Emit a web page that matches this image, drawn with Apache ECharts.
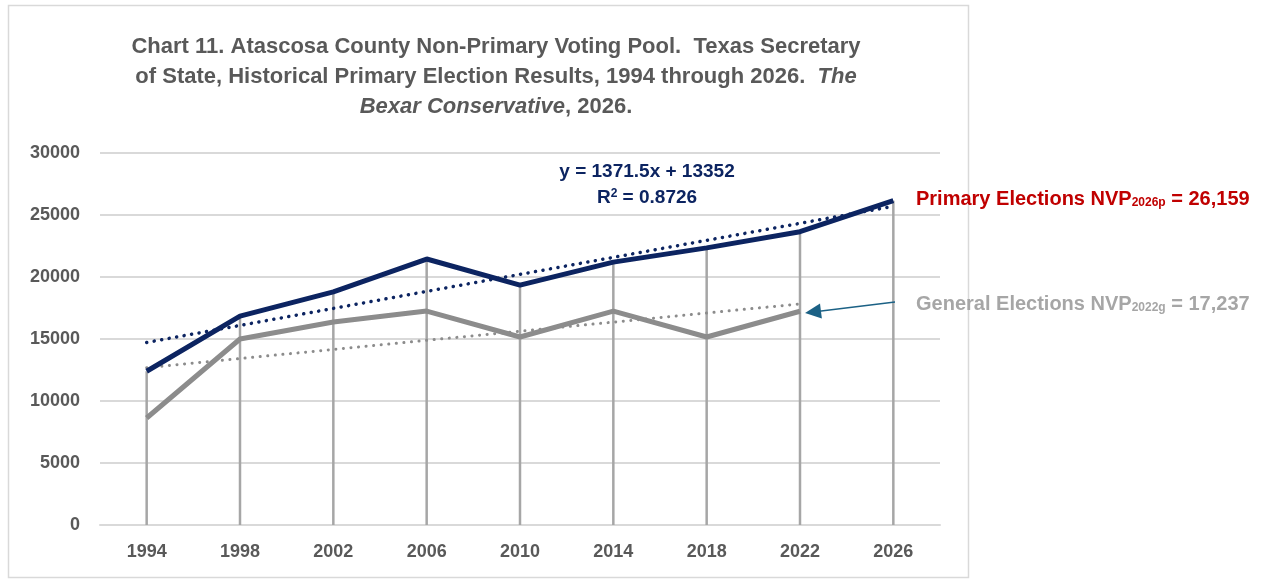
<!DOCTYPE html>
<html>
<head>
<meta charset="utf-8">
<script src="https://cdn.jsdelivr.net/npm/echarts@6/dist/echarts.min.js"></script>
<style>
  html, body { margin: 0; padding: 0; background: #fff; }
  #chart { width: 1267px; height: 582px; }
</style>
</head>
<body>
<div id="chart"></div>
<script>
// values
const years = ['1994', '1998', '2002', '2006', '2010', '2014', '2018', '2022', '2026'];
const primaryNVP = [12400, 16850, 18800, 21450, 19350, 21200, 22350, 23650, 26159];
const generalNVP = [8630, 15000, 16370, 17250, 15160, 17250, 15160, 17237, null];
// trend line end points (first and last year of each series)
const primaryTrend = [14720, null, null, null, null, null, null, null, 25700];
const generalTrend = [12690, null, null, null, null, null, null, 17830, null];
const yTicks = { min: 0, max: 30000, interval: 5000 };

const navy = '#0c2461';
const gray = '#8c8c8c';
const labelGray = '#595959';

const chart = echarts.init(document.getElementById('chart'));

const option = {
    backgroundColor: '#fff',
    animation: false,
    title: {
        left: 491,
        top: 27,
        textAlign: 'center',
        text: 'Chart 11. Atascosa County Non-Primary Voting Pool.  Texas Secretary\n' +
              'of State, Historical Primary Election Results, 1994 through 2026.  {i|The}\n' +
              '{i|Bexar Conservative}, 2026.',
        textStyle: {
            fontFamily: 'Liberation Sans',
            fontSize: 22,
            fontWeight: 'bold',
            color: labelGray,
            lineHeight: 30,
            rich: {
                i: { fontFamily: 'Liberation Sans', fontSize: 22, fontWeight: 'bold', fontStyle: 'italic', color: labelGray, lineHeight: 30 }
            }
        }
    },
    grid: { left: 100, right: 327, top: 153, bottom: 57 },
    xAxis: {
        type: 'category',
        data: years,
        boundaryGap: true,
        axisLine: { lineStyle: { color: '#d9d9d9', width: 2 } },
        axisTick: { show: false },
        axisLabel: { color: labelGray, fontSize: 18, fontWeight: 'bold', fontFamily: 'Liberation Sans', margin: 18 }
    },
    yAxis: {
        type: 'value',
        min: yTicks.min,
        max: yTicks.max,
        interval: yTicks.interval,
        axisLine: { show: false },
        axisTick: { show: false },
        splitLine: { lineStyle: { color: '#d9d9d9', width: 2 } },
        axisLabel: {
            color: labelGray, fontSize: 18, fontWeight: 'bold', fontFamily: 'Liberation Sans', margin: 20,
            formatter: v => String(v)
        }
    },
    series: [
        {
            // drop lines
            type: 'bar',
            data: primaryNVP,
            barWidth: 2.5,
            itemStyle: { color: '#a6a6a6' },
            z: 1,
            silent: true
        },
        {
            name: 'General trend',
            type: 'line',
            data: generalTrend,
            connectNulls: true,
            symbol: 'none',
            lineStyle: { color: gray, width: 3, type: [0.1, 7.5], cap: 'round' },
            z: 2
        },
        {
            name: 'General',
            type: 'line',
            data: generalNVP,
            symbol: 'none',
            lineStyle: { color: gray, width: 5 },
            z: 3,
            markLine: {
                silent: true,
                symbol: ['none', 'triangle'],
                symbolSize: [15, 16],
                label: { show: false },
                lineStyle: { color: '#1b6185', width: 1.5, type: 'solid' },
                data: [[{ x: 895, y: 302 }, { x: 813, y: 312 }]]
            }
        },
        {
            name: 'Primary trend',
            type: 'line',
            data: primaryTrend,
            connectNulls: true,
            symbol: 'none',
            lineStyle: { color: navy, width: 3.5, type: [0.1, 7.5], cap: 'round' },
            z: 4
        },
        {
            name: 'Primary',
            type: 'line',
            data: primaryNVP,
            symbol: 'none',
            lineStyle: { color: navy, width: 5 },
            z: 5
        }
    ],
    graphic: [
        {
            type: 'rect',
            silent: true,
            shape: { x: 8.5, y: 5.5, width: 960, height: 572 },
            style: { fill: 'none', stroke: '#d9d9d9', lineWidth: 1.5 }
        },
        {
            type: 'text',
            x: 647,
            y: 159,
            style: {
                text: '{n|y = 1371.5x + 13352}\n{n|R}{s|2}{n| = 0.8726}',
                fill: navy,
                align: 'center',
                verticalAlign: 'top',
                rich: {
                    n: { font: 'bold 19px "Liberation Sans"', fill: navy, lineHeight: 26 },
                    s: { font: 'bold 12px "Liberation Sans"', fill: navy, lineHeight: 26, padding: [0, 0, 9, 0] }
                }
            }
        },
        {
            type: 'text',
            x: 916,
            y: 199,
            style: {
                text: '{n|Primary Elections NVP}{s|2026p}{n| = 26,159}',
                fill: '#c00000',
                verticalAlign: 'middle',
                rich: {
                    n: { font: 'bold 20px "Liberation Sans"', fill: '#c00000' },
                    s: { font: 'bold 12px "Liberation Sans"', fill: '#c00000', padding: [8, 0, 0, 0] }
                }
            }
        },
        {
            type: 'text',
            x: 916,
            y: 304,
            style: {
                text: '{n|General Elections NVP}{s|2022g}{n| = 17,237}',
                fill: '#a6a6a6',
                verticalAlign: 'middle',
                rich: {
                    n: { font: 'bold 20px "Liberation Sans"', fill: '#a6a6a6' },
                    s: { font: 'bold 12px "Liberation Sans"', fill: '#a6a6a6', padding: [8, 0, 0, 0] }
                }
            }
        }
    ]
};

chart.setOption(option);
</script>
</body>
</html>
